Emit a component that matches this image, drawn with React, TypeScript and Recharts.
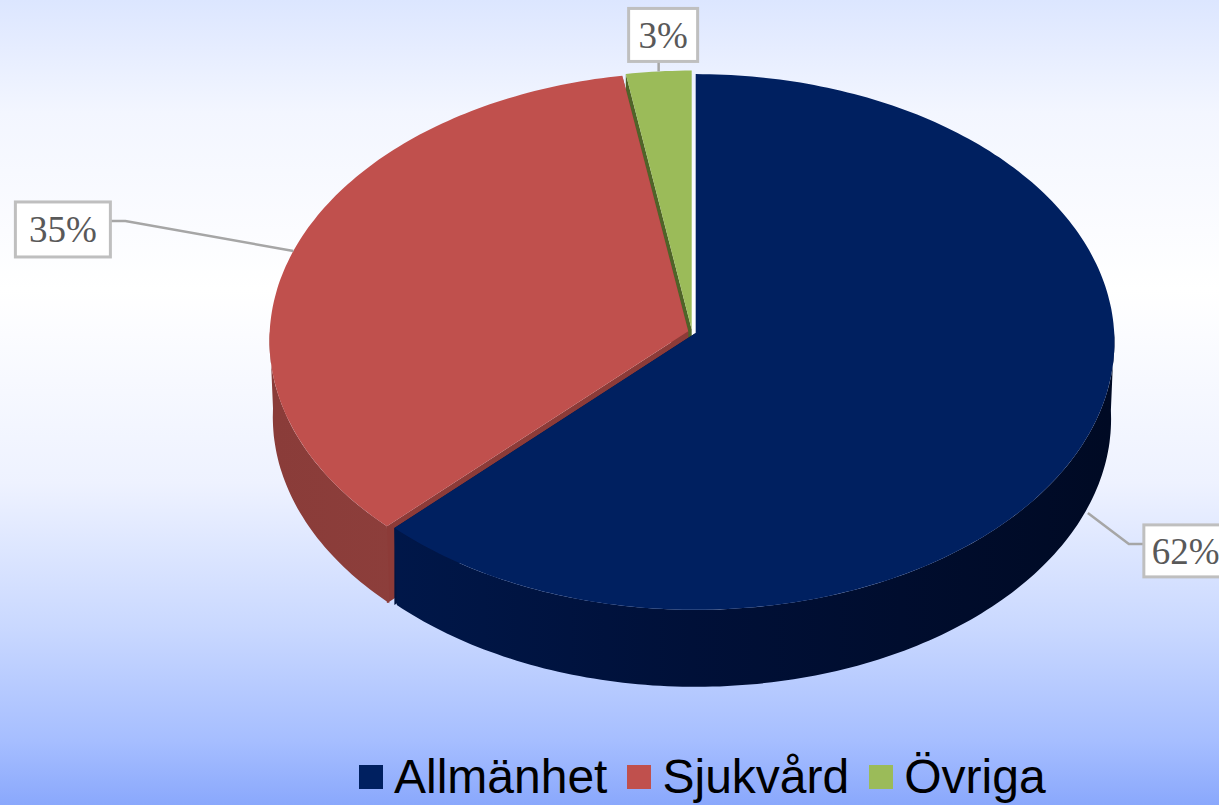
import { Legend, Pie, PieChart } from "recharts"

const categories = ["Allmänhet", "Sjukvård", "Övriga"]
const shares = [62.4, 35.0, 2.6]
const colors = ["#002060", "#C0504D", "#9BBB59"]
const wallColors = ["#001440", "#8C3B38", "#4F6428"]
const sideStops = [
  ["#001a50", "#001038", "#000a24"],
  ["#8A3C39", "#934340", "#863835"],
  ["#6F8A3A", "#6F8A3A", "#6F8A3A"],
]

// elbow and box of each leader, relative to where it leaves the pie
const labelOffsets = [
  { elbow: [41, 31], box: [56, 12], boxW: 100, boxH: 52 },
  { elbow: [-168, -30], box: [-278, -49], boxW: 95, boxH: 55 },
  { elbow: [0, -10], box: [-30, -63], boxW: 69, boxH: 53 },
]

// drawn back to front: blue has to sit on top of the walls of the other two
const table = categories
  .map((name, i) => ({ name, value: shares[i], fill: colors[i] }))
  .reverse()

const WIDTH = 1219
const HEIGHT = 805
const CX = 692
const CY = 341
const RADIUS = 418.5
const SQUASH = 0.64
const PERSPECTIVE = 0.0336 // pulls the pie centre up, the far side looks narrower
const DEPTH = 77
const EXPLODE = 4
const BACK_SCALE = 0.992

const rad = (a: number) => (a * Math.PI) / 180

// point of the tilted disc: angle in degrees, r from 0 to 1
function project(cx: number, cy: number, R: number, a: number, r = 1, xScale = 1) {
  const u = r * Math.cos(rad(a))
  const v = r * Math.sin(rad(a))
  const d = 1 + PERSPECTIVE * v
  return [
    cx + (R * xScale * u) / d,
    cy - (R * SQUASH * (v + PERSPECTIVE)) / d,
  ]
}

function explodeOffset(mid: number) {
  return [
    EXPLODE * Math.cos(rad(mid)),
    -EXPLODE * SQUASH * Math.sin(rad(mid)),
  ]
}

const toPath = (pts: number[][]) =>
  "M" + pts.map((p) => `${p[0].toFixed(1)},${p[1].toFixed(1)}`).join("L") + "Z"

function arc(cx: number, cy: number, R: number, from: number, to: number, xScale = 1, dy = 0) {
  const pts: number[][] = []
  const n = Math.max(2, Math.ceil(Math.abs(to - from)))
  for (let i = 0; i <= n; i++) {
    const p = project(cx, cy, R, from + ((to - from) * i) / n, 1, xScale)
    pts.push([p[0], p[1] + dy])
  }
  return pts
}

function Slice(props: any) {
  const { cx, cy, outerRadius: R, startAngle, endAngle, fill, name } = props
  const i = categories.indexOf(name)
  const mid = (startAngle + endAngle) / 2
  const [ox, oy] = explodeOffset(mid)
  const x0 = cx + ox
  const y0 = cy + oy
  const apex = project(x0, y0, R, 0, 0)
  const rim = arc(x0, y0, R, startAngle, endAngle)
  const endRim = rim[rim.length - 1]
  const startRim = rim[0]
  const lo = Math.max(startAngle, 180)
  const hi = Math.min(endAngle, 360)
  const gradId = `side-${i}`
  return (
    <g>
      <defs>
        <linearGradient id={gradId} gradientUnits="userSpaceOnUse" x1={cx - R} x2={cx + R} y1={0} y2={0}>
          <stop offset="0" stopColor={sideStops[i][0]} />
          <stop offset="0.5" stopColor={sideStops[i][1]} />
          <stop offset="1" stopColor={sideStops[i][2]} />
        </linearGradient>
      </defs>
      {[startRim, endRim].map((p, k) => (
        <path
          key={k}
          fill={wallColors[i]}
          d={toPath([apex, p, [p[0], p[1] + DEPTH], [apex[0], apex[1] + DEPTH]])}
        />
      ))}
      {lo < hi && (
        <path
          fill={`url(#${gradId})`}
          d={toPath([
            ...arc(x0, y0, R, lo, hi),
            ...arc(x0, y0, R, hi, lo, BACK_SCALE, DEPTH),
          ])}
        />
      )}
      <path fill={fill} d={toPath([apex, ...rim])} />
    </g>
  )
}

function BoxLabel(props: any) {
  const { cx, cy, outerRadius: R, midAngle, percent, index } = props
  const off = labelOffsets[table.length - 1 - index]
  const [ox, oy] = explodeOffset(midAngle)
  const front = Math.sin(rad(midAngle)) < 0
  const p = project(cx + ox, cy + oy, R, midAngle)
  const ax = p[0]
  const ay = p[1] + (front ? DEPTH : 0)
  const bx = ax + off.box[0]
  const by = ay + off.box[1]
  const ex = ax + off.elbow[0]
  const ey = ay + off.elbow[1]
  // the top label leaves straight up into its box, the others leave at the side
  const endX = off.elbow[0] === 0 ? ex : off.elbow[0] > 0 ? bx : bx + off.boxW
  const endY = off.elbow[0] === 0 ? by + off.boxH : ey
  return (
    <g>
      <polyline
        points={`${ax},${ay} ${ex},${ey} ${endX},${endY}`}
        fill="none"
        stroke="#A6A6A6"
        strokeWidth={2.5}
      />
      <rect x={bx} y={by} width={off.boxW} height={off.boxH} fill="#fff" stroke="#BFBFBF" strokeWidth={3} />
      <text
        x={off.elbow[0] > 0 ? bx + 8 : bx + off.boxW / 2}
        y={by + off.boxH / 2 + 13}
        textAnchor={off.elbow[0] > 0 ? "start" : "middle"}
        fontFamily="'Liberation Serif', serif"
        fontSize={37}
        fill="#595959"
      >
        {Math.round(percent * 100)}%
      </text>
    </g>
  )
}

function LegendRow({ payload }: any) {
  const items = [...(payload ?? [])].sort(
    (a: any, b: any) => categories.indexOf(a.value) - categories.indexOf(b.value)
  )
  return (
    <div style={{ display: "flex", alignItems: "center", fontFamily: "'Liberation Sans', sans-serif", fontSize: 48, lineHeight: "56px", color: "#000" }}>
      {items.map((item: any) => (
        <div key={item.value} style={{ display: "flex", alignItems: "center", marginRight: 20 }}>
          <span style={{ width: 24, height: 24, background: item.color, marginRight: 11, display: "inline-block" }} />
          <span>{item.value}</span>
        </div>
      ))}
    </div>
  )
}

export default function App() {
  return (
    <div
      style={{
        position: "absolute",
        left: 0,
        top: 0,
        width: WIDTH,
        height: HEIGHT,
        overflow: "hidden",
        background:
          "linear-gradient(180deg, #DCE6FF 0%, #F3F6FF 14%, #FFFFFF 36%, #EEF2FF 60%, #C9D8FF 78%, #A6BEFF 92%, #8AA8FC 100%)",
      }}
    >
      <PieChart width={WIDTH} height={HEIGHT} margin={{ top: 0, right: 0, bottom: 0, left: 0 }}>
        <Pie
          data={table}
          dataKey="value"
          nameKey="name"
          cx={CX}
          cy={CY}
          innerRadius={0}
          outerRadius={RADIUS}
          startAngle={90}
          endAngle={450}
          stroke="none"
          isAnimationActive={false}
          labelLine={false}
          label={(p: any) => <BoxLabel {...p} />}
          shape={(p: any) => <Slice {...p} />}
        />
        <Legend
          content={(p: any) => <LegendRow {...p} />}
          wrapperStyle={{ left: 359, top: 749, bottom: "auto", width: 760 }}
        />
      </PieChart>
    </div>
  )
}
